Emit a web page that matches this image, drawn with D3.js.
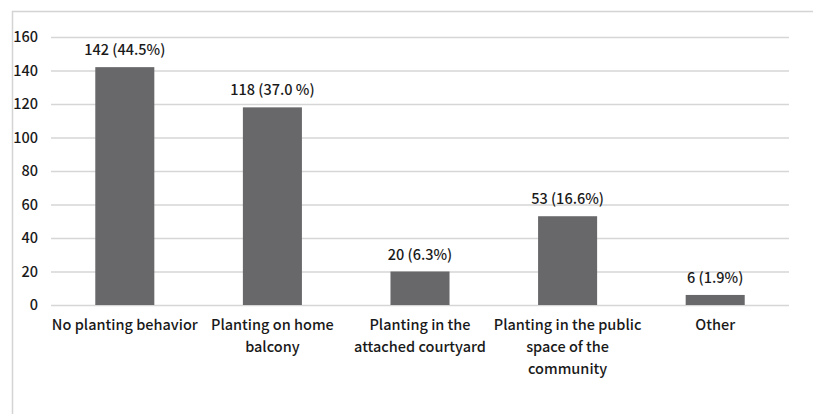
<!DOCTYPE html>
<html>
<head>
<meta charset="utf-8">
<script src="https://cdn.jsdelivr.net/npm/d3@7"></script>
<style>
  html, body { margin: 0; padding: 0; background: #fff; }
  svg { display: block; }
  text { font-family: "Noto Sans CJK SC", "Noto Sans", sans-serif; fill: #1a1a1a; font-weight: 500; }
</style>
</head>
<body>
<svg id="chart" width="813" height="414"></svg>
<script>
// Planting behaviour of respondents
const categories = [
  ["No planting behavior"],
  ["Planting on home", "balcony"],
  ["Planting in the", "attached courtyard"],
  ["Planting in the public", "space of the", "community"],
  ["Other"]
];
const counts = [142, 118, 20, 53, 6];
const valueLabels = ["142 (44.5%)", "118 (37.0 %)", "20 (6.3%)", "53 (16.6%)", "6 (1.9%)"];
const yTicks = [0, 20, 40, 60, 80, 100, 120, 140, 160];

const svg = d3.select("#chart");
const W = 813, H = 414;
const plot = { left: 51, right: 789, top: 37, bottom: 305 };

// chart frame
svg.append("path")
  .attr("d", `M12.5,${H} L12.5,11.5 L${W},11.5`)
  .attr("fill", "none")
  .attr("stroke", "#d4d4d4")
  .attr("stroke-width", 1.5);

const x = d3.scaleBand()
  .domain(d3.range(categories.length))
  .range([plot.left, plot.right])
  .paddingInner(0.6)
  .paddingOuter(0.3);

const y = d3.scaleLinear()
  .domain([0, 160])
  .range([plot.bottom, plot.top]);

// gridlines + y tick labels
const yAxis = d3.axisLeft(y)
  .tickValues(yTicks)
  .tickSize(-(plot.right - plot.left))
  .tickPadding(13)
  .tickFormat(d3.format("d"));

const gy = svg.append("g")
  .attr("transform", `translate(${plot.left},0)`)
  .call(yAxis);
gy.select(".domain").remove();
gy.selectAll(".tick line").attr("stroke", "#d6d6d6").attr("stroke-width", 1.5);
gy.selectAll(".tick text")
  .attr("font-size", 14.5)
  .attr("fill", "#1a1a1a");

// bars
svg.append("g").selectAll("rect")
  .data(counts)
  .join("rect")
  .attr("x", (d, i) => x(i))
  .attr("width", x.bandwidth())
  .attr("y", d => y(d))
  .attr("height", d => y(0) - y(d))
  .attr("fill", "#68686b");

// value labels
svg.append("g").selectAll("text")
  .data(counts)
  .join("text")
  .attr("x", (d, i) => x(i) + x.bandwidth() / 2)
  .attr("y", d => y(d) - 12)
  .attr("text-anchor", "middle")
  .attr("font-size", 14.5)
  .text((d, i) => valueLabels[i]);

// category labels
const cat = svg.append("g").selectAll("text")
  .data(categories)
  .join("text")
  .attr("x", (d, i) => x(i) + x.bandwidth() / 2)
  .attr("y", 330)
  .attr("text-anchor", "middle")
  .attr("font-size", 14.5);
cat.selectAll("tspan")
  .data(d => d)
  .join("tspan")
  .attr("x", function () { return this.parentNode.getAttribute("x"); })
  .attr("dy", (d, i) => i === 0 ? 0 : 22)
  .text(d => d);
</script>
</body>
</html>
